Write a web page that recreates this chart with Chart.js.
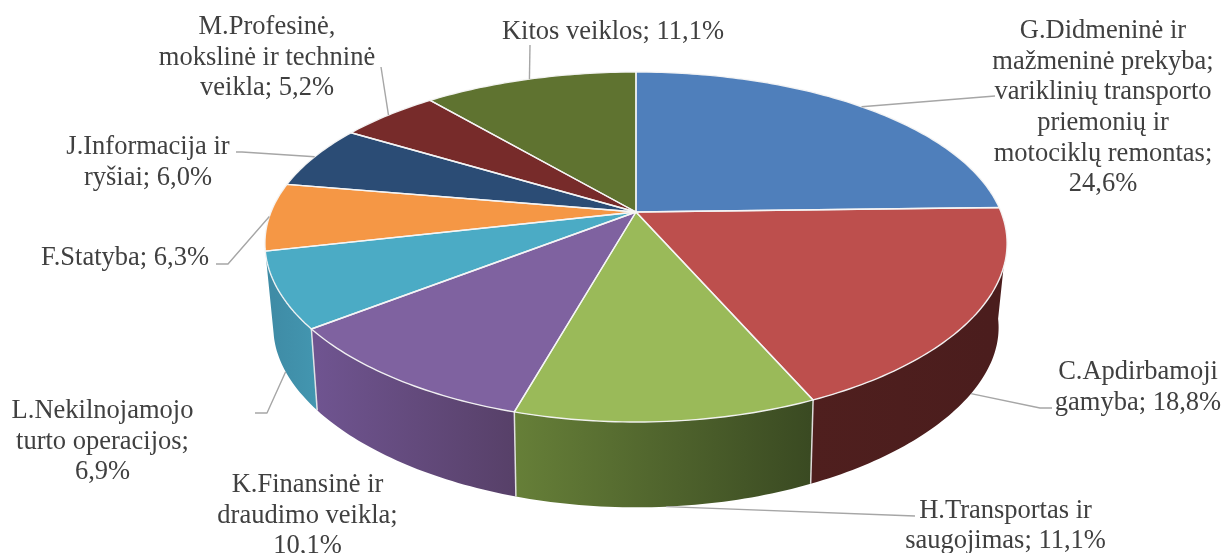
<!DOCTYPE html>
<html><head><meta charset="utf-8">
<style>html,body{margin:0;padding:0;background:#fff}canvas{display:block}</style>
<script src="https://cdn.jsdelivr.net/npm/chart.js@4"></script></head>
<body><canvas id="c" width="1224" height="553"></canvas>
<script>
const categories=["G.Didmeninė ir mažmeninė prekyba; variklinių transporto priemonių ir motociklų remontas","C.Apdirbamoji gamyba","H.Transportas ir saugojimas","K.Finansinė ir draudimo veikla","L.Nekilnojamojo turto operacijos","F.Statyba","J.Informacija ir ryšiai","M.Profesinė, mokslinė ir techninė veikla","Kitos veiklos"];
const shares=[24.6,18.8,11.1,10.1,6.9,6.3,6.0,5.2,11.1];
const faceColors=["#4f7fbb","#bd4f4d","#9aba59","#7f62a0","#4babc5","#f59745","#2b4c75","#772b2a","#5f7330"];
const labelLines=[
 ["G.Didmeninė ir","mažmeninė prekyba;","variklinių transporto","priemonių ir","motociklų remontas;","24,6%"],
 ["C.Apdirbamoji","gamyba; 18,8%"],
 ["H.Transportas ir","saugojimas; 11,1%"],
 ["K.Finansinė ir","draudimo veikla;","10,1%"],
 ["L.Nekilnojamojo","turto operacijos;","6,9%"],
 ["F.Statyba; 6,3%"],
 ["J.Informacija ir","ryšiai; 6,0%"],
 ["M.Profesinė,","mokslinė ir techninė","veikla; 5,2%"],
 ["Kitos veiklos; 11,1%"]];
// layout of text and leaders (not data)
const labelAt=[[1103,[38,69,99,130,161,191]],[1138,[379,410]],[1005.5,[518,548]],[307.5,[492,523,553]],[102.5,[418,449,479]],[125,[265]],[148,[154,185]],[267,[34,65,95]],[613,[39]]];
const leaderPath=[[[995,96]],[[1040,408],[1052,408]],[[915,516]],null,[[267,413],[255,413]],[[228,264],[216,264]],[[242,152],[236,152]],[[381,67]],[[530,45]]];
const leaderOnBase=[false,true,true,false,true,false,false,false,false];
const wallFill=[null,["#4f1f1e","#4b1d1d"],["#667f38","#3a4a22"],["#6f5490","#574068"],["#3f8ca6","#4396b0"],null,null,null,null];
const G={cx:636,top:{y:212,R:365,h:168,kx:.18,ky:.2},base:{y:296,R:356,h:158.5,kx:.19,ky:.25}};
const TANGENT_TOP=108*Math.PI/180,TANGENT_BASE=98*Math.PI/180;
function proj(th,l){const s=Math.sin(th),v=-Math.cos(th);return[G.cx+l.R*s/(1-l.kx*v),l.y+l.h*v/(1-l.ky*v)];}
function rim(ctx,a,b,lvl,first){const n=Math.max(2,Math.ceil(Math.abs(b-a)*60));for(let i=0;i<=n;i++){const p=proj(a+(b-a)*i/n,lvl);(i||!first)?ctx.lineTo(p[0],p[1]):ctx.moveTo(p[0],p[1]);}}
const pie3d={id:'pie3d',
 beforeDatasetDraw(chart){
  const ctx=chart.ctx,meta=chart.getDatasetMeta(0),ds=chart.data.datasets[0];
  const A=meta.data.map(e=>[e.startAngle+Math.PI/2,e.endAngle+Math.PI/2]);
  ctx.save();ctx.lineJoin='round';
  [4,3,2,1].forEach(i=>{
   const a=A[i][0],b=A[i][1];
   const at=i===1?TANGENT_TOP:a,ab=i===1?TANGENT_BASE:a;
   ctx.beginPath();rim(ctx,at,b,G.top,true);rim(ctx,b,ab,G.base,false);ctx.closePath();
   const pa=proj(a,G.base),pb=proj(b,G.base);
   const xl=Math.min(pa[0],pb[0]),xr=Math.max(pa[0],pb[0]);
   const g=ctx.createLinearGradient(xl,0,xr,0);g.addColorStop(0,wallFill[i][0]);g.addColorStop(1,wallFill[i][1]);
   ctx.fillStyle=g;ctx.fill();
  });
  ctx.strokeStyle='rgba(235,235,235,.9)';ctx.lineWidth=1.5;
  [1,2,3].forEach(i=>{const t=A[i][1],p=proj(t,G.top),q=proj(t,G.base);ctx.beginPath();ctx.moveTo(p[0],p[1]);ctx.lineTo(q[0],q[1]);ctx.stroke();});
  A.forEach((r,i)=>{
   ctx.beginPath();ctx.moveTo(G.cx,G.top.y);rim(ctx,r[0],r[1],G.top,false);ctx.closePath();
   ctx.fillStyle=ds.backgroundColor[i];ctx.fill();
  });
  A.forEach((r,i)=>{
   ctx.beginPath();ctx.moveTo(G.cx,G.top.y);rim(ctx,r[0],r[1],G.top,false);ctx.closePath();
   ctx.strokeStyle='rgba(245,245,245,.95)';ctx.lineWidth=1.4;ctx.stroke();
  });
  ctx.strokeStyle='#a6a6a6';ctx.lineWidth=1.4;
  A.forEach((r,i)=>{
   if(!leaderPath[i])return;
   const p=proj((r[0]+r[1])/2,leaderOnBase[i]?G.base:G.top);
   ctx.beginPath();ctx.moveTo(p[0],p[1]);leaderPath[i].forEach(q=>ctx.lineTo(q[0],q[1]));ctx.stroke();
  });
  ctx.fillStyle='#404040';ctx.font='26.5px "Liberation Serif"';ctx.textAlign='center';ctx.textBaseline='alphabetic';
  labelLines.forEach((ls,i)=>ls.forEach((t,j)=>ctx.fillText(t,labelAt[i][0],labelAt[i][1][j])));
  ctx.restore();
  return false;
 }};
new Chart(document.getElementById('c'),{type:'pie',
 data:{labels:categories,datasets:[{data:shares,backgroundColor:faceColors}]},
 options:{responsive:false,animation:false,plugins:{legend:{display:false},tooltip:{enabled:false}}},
 plugins:[pie3d]});
</script></body></html>
